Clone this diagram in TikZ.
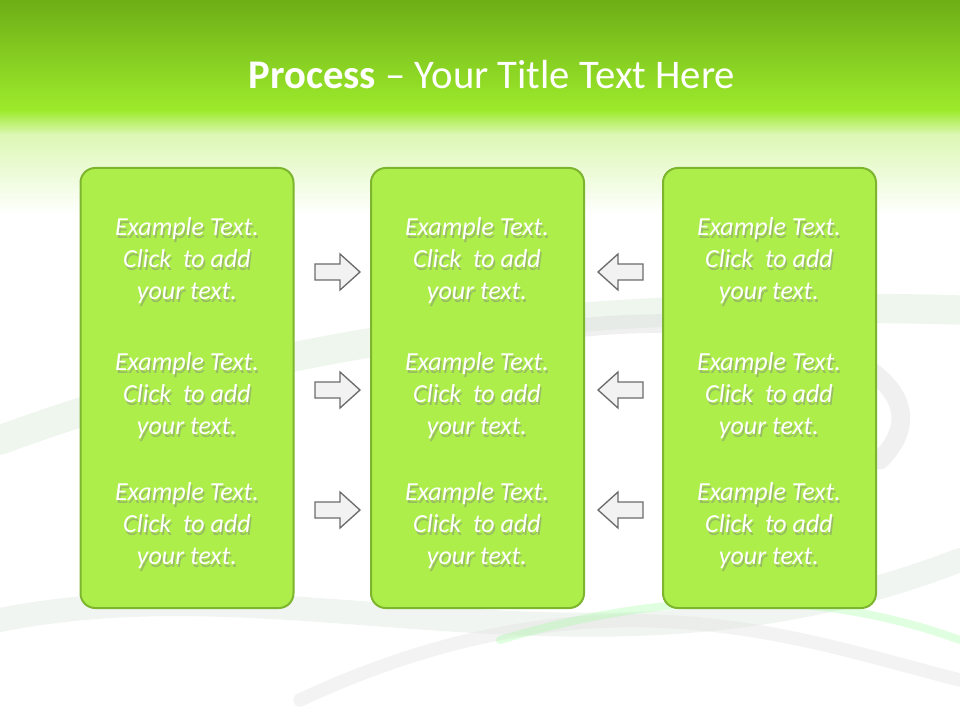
\documentclass[tikz,border=0pt]{standalone}
\usepackage{fontspec}
\setmainfont{Carlito}
\begin{document}
\begin{tikzpicture}[x=0.75pt,y=-0.75pt,
  box/.style={draw=boxline,line width=1.5pt,fill=boxfill,rounded corners=11pt},
  txt/.style={text=white,font=\itshape\fontsize{19.5}{24}\selectfont,align=center},
  shd/.style={text=black!50,font=\itshape\fontsize{19.5}{24}\selectfont,align=center,opacity=0.45},
  arr/.style={fill=gray!10,draw=gray!85!black,line width=1pt}]
\definecolor{boxfill}{HTML}{ADEE4B}
\definecolor{boxline}{HTML}{7DB52E}
\definecolor{topg}{HTML}{6DAE16}
\definecolor{midg}{HTML}{9DEA2C}
\useasboundingbox (0,0) rectangle (960,720);
\fill[white] (0,0) rectangle (960,720);
% header
\shade[top color=topg,bottom color=midg] (0,0) rectangle (960,110);
\shade[top color=midg,bottom color=midg!35] (0,110) rectangle (960,135);
\shade[top color=midg!35,bottom color=white] (0,135) rectangle (960,215);
% swirls
\begin{scope}[line cap=round]
\draw[green!30!gray!25,line width=22pt,opacity=0.4] (0,440) .. controls (300,330) and (600,300) .. (960,310);
\draw[gray!25,line width=14pt,opacity=0.45] (560,330) .. controls (800,300) and (960,380) .. (880,460);
\draw[green!20!gray!20,line width=18pt,opacity=0.45] (0,620) .. controls (300,560) and (600,700) .. (960,560);
\draw[gray!20,line width=10pt,opacity=0.45] (300,700) .. controls (600,560) and (800,640) .. (960,680);
\draw[green!40,line width=6pt,opacity=0.3] (500,640) .. controls (700,580) and (850,600) .. (960,640);
\end{scope}
\node[text=white,font=\fontsize{30.5}{34}\selectfont] (title) at (492,75) {\textbf{Process} -- Your Title Text Here};
% boxes
\node[box,minimum width=213pt*0.75,minimum height=440pt*0.75] (L) at (187,388) {};
\node[box,minimum width=213pt*0.75,minimum height=440pt*0.75] (M) at (477.5,388) {};
\node[box,minimum width=213pt*0.75,minimum height=440pt*0.75] (R) at (769.5,388) {};
\foreach \cx/\n in {187/l,477/m,769/r}{
 \foreach \cy/\k in {261/1,396/2,526/3}{
  \node[shd] at (\cx+1.5,\cy+2.5) {Example Text.\\Click\ \ to add\\your text.};
  \node[txt] (t\n\k) at (\cx,\cy) {Example Text.\\Click\ \ to add\\your text.};
 }}
% arrows
\foreach \cy in {272,390,510}{
 \draw[arr] (315,\cy-8) -- (340,\cy-8) -- (340,\cy-18) -- (360,\cy) -- (340,\cy+18) -- (340,\cy+8) -- (315,\cy+8) -- cycle;
 \draw[arr] (643,\cy-8) -- (618,\cy-8) -- (618,\cy-18) -- (598,\cy) -- (618,\cy+18) -- (618,\cy+8) -- (643,\cy+8) -- cycle;
}
\end{tikzpicture}
\end{document}
